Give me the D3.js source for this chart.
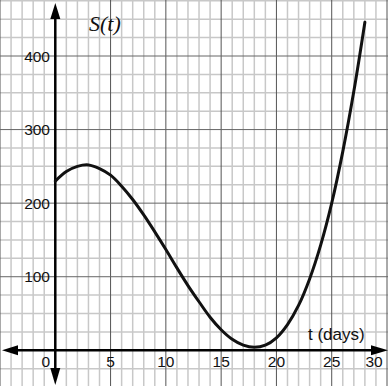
<!DOCTYPE html>
<html lang="en">
<head>
	<meta charset="UTF-8">
	<title>S(t)</title>
	<script src="https://cdn.jsdelivr.net/npm/d3@7/dist/d3.min.js"></script>
	<style>
		body { margin: 0; background: white; }
		svg { display: block; }
		text { fill: #111; }
	</style>
</head>
<body>
	<div id="vis"></div>

	<script>
		var width = 388;
		var height = 386;

		// curve: days and S(t)
		var days    = [0, 1, 2, 3, 4, 5, 6, 7, 8, 9, 10, 11, 12, 13, 14, 15, 16, 17, 18, 19, 20, 21, 22, 23, 24, 25, 26, 27, 28];
		var sValues = [230, 243, 250, 252, 247, 238, 223, 205, 184, 161, 137, 112, 88, 66, 45, 28, 15, 7, 4, 7, 17, 35, 61, 97, 143, 200, 270, 352, 446];

		var xTicks = [0, 5, 10, 15, 20, 25, 30];
		var yTicks = [100, 200, 300, 400];

		var x = d3.scaleLinear().domain([-5, 30]).range([0, 387]);
		var y = d3.scaleLinear().domain([0, 400]).range([350.3, 56]);

		var svg = d3.select("#vis").append("svg")
				.attr("width", width)
				.attr("height", height)
				.style("font-family", "'Liberation Sans', Arial, sans-serif");

		// grid: every day across, every 25 up
		var vLines = d3.range(-5, 32, 1);
		var hLines = d3.range(-50, 500, 25);

		svg.append("g").selectAll("line")
			.data(vLines.filter(function(d) { return d % 5 !== 0; }))
			.join("line")
				.attr("x1", function(d) { return x(d); })
				.attr("x2", function(d) { return x(d); })
				.attr("y1", 0).attr("y2", height)
				.attr("stroke", "#c8c8c8")
				.attr("stroke-width", 1.5);

		svg.append("g").selectAll("line")
			.data(hLines.filter(function(d) { return d % 100 !== 0; }))
			.join("line")
				.attr("y1", function(d) { return y(d); })
				.attr("y2", function(d) { return y(d); })
				.attr("x1", 0).attr("x2", width)
				.attr("stroke", "#c8c8c8")
				.attr("stroke-width", 1.5);

		svg.append("g").selectAll("line")
			.data(vLines.filter(function(d) { return d % 5 === 0 && d !== 0; }))
			.join("line")
				.attr("x1", function(d) { return x(d); })
				.attr("x2", function(d) { return x(d); })
				.attr("y1", 0).attr("y2", height)
				.attr("stroke", "#555")
				.attr("stroke-width", 1);

		svg.append("g").selectAll("line")
			.data(hLines.filter(function(d) { return d % 100 === 0 && d !== 0; }))
			.join("line")
				.attr("y1", function(d) { return y(d); })
				.attr("y2", function(d) { return y(d); })
				.attr("x1", 0).attr("x2", width)
				.attr("stroke", "#666")
				.attr("stroke-width", 1);

		// axes with arrows at both ends
		var x0 = x(0), y0 = y(0);
		svg.append("line")
			.attr("x1", 10).attr("x2", width - 10)
			.attr("y1", y0).attr("y2", y0)
			.attr("stroke", "black").attr("stroke-width", 2.5);
		svg.append("line")
			.attr("x1", x0).attr("x2", x0)
			.attr("y1", 10).attr("y2", height - 10)
			.attr("stroke", "black").attr("stroke-width", 2.5);

		var arrows = [
			[[2, y0], [18, y0 - 5], [18, y0 + 5]],
			[[388, y0], [371, y0 - 5], [371, y0 + 5]],
			[[x0, 3], [x0 - 5, 19], [x0 + 5, 19]],
			[[x0, 385], [x0 - 5, 368], [x0 + 5, 368]]
		];
		svg.append("g").selectAll("path")
			.data(arrows)
			.join("path")
				.attr("d", function(d) { return "M" + d.join("L") + "Z"; })
				.attr("fill", "black");

		// tick labels
		svg.append("g").selectAll("text")
			.data(xTicks)
			.join("text")
				.attr("x", function(d) { return x(d) + (d === 0 ? -9.5 : d === 30 ? -13 : 0); })
				.attr("y", 367)
				.attr("text-anchor", "middle")
				.attr("font-size", 15.5)
				.text(function(d) { return d; });

		svg.append("g").selectAll("text")
			.data(yTicks)
			.join("text")
				.attr("x", 50)
				.attr("y", function(d) { return y(d); })
				.attr("dy", "0.36em")
				.attr("text-anchor", "end")
				.attr("font-size", 15.5)
				.text(function(d) { return d; });

		// the curve
		var line = d3.line()
			.x(function(d, i) { return x(days[i]); })
			.y(function(d) { return y(d); })
			.curve(d3.curveCatmullRom);

		svg.append("path")
			.datum(sValues)
			.attr("d", line)
			.attr("fill", "none")
			.attr("stroke", "#111")
			.attr("stroke-width", 3)
			.attr("stroke-linecap", "round");

		// axis titles
		svg.append("text")
			.attr("x", 89).attr("y", 31)
			.style("font-family", "'Liberation Serif', 'Times New Roman', serif")
			.style("font-style", "italic")
			.attr("font-size", 22)
			.text("S(t)");

		svg.append("text")
			.attr("x", 308).attr("y", 340)
			.attr("font-size", 17)
			.text("t (days)");
	</script>
</body>
</html>
